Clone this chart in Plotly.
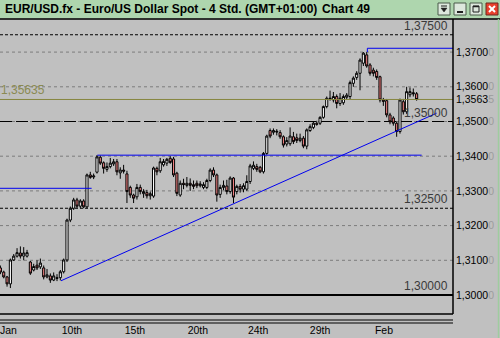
import plotly.graph_objects as go

# ---------------- data ----------------
opens = [1.3078, 1.3066, 1.3052, 1.3032, 1.3101, 1.3112, 1.3121, 1.3112, 1.3112, 1.3095,
         1.3072, 1.3086, 1.3081, 1.3078, 1.3052, 1.3055, 1.3043, 1.3050, 1.3050, 1.3067,
         1.3101, 1.3216, 1.3250, 1.3274, 1.3256, 1.3271, 1.3254, 1.3346, 1.3340, 1.3354,
         1.3397, 1.3381, 1.3362, 1.3370, 1.3378, 1.3384, 1.3352, 1.3360, 1.3349, 1.3310,
         1.3288, 1.3283, 1.3310, 1.3292, 1.3295, 1.3286, 1.3285, 1.3365, 1.3358, 1.3375,
         1.3380, 1.3394, 1.3392, 1.3351, 1.3288, 1.3322, 1.3316, 1.3322, 1.3318, 1.3322,
         1.3315, 1.3310, 1.3310, 1.3330, 1.3360, 1.3346, 1.3290, 1.3310, 1.3314, 1.3298,
         1.3337, 1.3298, 1.3313, 1.3305, 1.3305, 1.3327, 1.3365, 1.3370, 1.3368, 1.3355,
         1.3408, 1.3474, 1.3469, 1.3472, 1.3468, 1.3456, 1.3435, 1.3436, 1.3456, 1.3453,
         1.3445, 1.3452, 1.3429, 1.3474, 1.3483, 1.3495, 1.3495, 1.3512, 1.3543, 1.3567,
         1.3562, 1.3572, 1.3552, 1.3554, 1.3570, 1.3572, 1.3610, 1.3627, 1.3639, 1.3668,
         1.3692, 1.3663, 1.3648, 1.3644, 1.3629, 1.3562, 1.3560, 1.3519, 1.3510, 1.3495,
         1.3471, 1.3557, 1.3528, 1.3577, 1.3583, 1.3580]
highs = [1.3085, 1.3070, 1.3055, 1.3105, 1.3118, 1.3135, 1.3140, 1.3138, 1.3130, 1.3098,
         1.3090, 1.3100, 1.3105, 1.3085, 1.3075, 1.3062, 1.3065, 1.3060, 1.3072, 1.3105,
         1.3220, 1.3255, 1.3280, 1.3280, 1.3276, 1.3276, 1.3350, 1.3355, 1.3350, 1.3403,
         1.3402, 1.3385, 1.3382, 1.3395, 1.3392, 1.3392, 1.3368, 1.3375, 1.3358, 1.3315,
         1.3292, 1.3320, 1.3318, 1.3305, 1.3303, 1.3298, 1.3370, 1.3370, 1.3395, 1.3392,
         1.3395, 1.3400, 1.3398, 1.3355, 1.3330, 1.3335, 1.3340, 1.3336, 1.3330, 1.3330,
         1.3328, 1.3325, 1.3335, 1.3365, 1.3368, 1.3350, 1.3318, 1.3330, 1.3332, 1.3342,
         1.3340, 1.3318, 1.3320, 1.3322, 1.3345, 1.3378, 1.3385, 1.3378, 1.3372, 1.3412,
         1.3462, 1.3480, 1.3480, 1.3478, 1.3475, 1.3460, 1.3455, 1.3483, 1.3470, 1.3465,
         1.3465, 1.3458, 1.3480, 1.3492, 1.3500, 1.3502, 1.3515, 1.3546, 1.3572, 1.3589,
         1.3585, 1.3578, 1.3582, 1.3578, 1.3582, 1.3618, 1.3630, 1.3645, 1.3682, 1.3700,
         1.3700, 1.3668, 1.3655, 1.3650, 1.3632, 1.3568, 1.3565, 1.3525, 1.3515, 1.3500,
         1.3566, 1.3565, 1.3600, 1.3598, 1.3595, 1.3585]
lows = [1.3060, 1.3048, 1.3024, 1.3020, 1.3098, 1.3108, 1.3105, 1.3100, 1.3108, 1.3058,
        1.3068, 1.3072, 1.3075, 1.3045, 1.3048, 1.3035, 1.3040, 1.3040, 1.3042, 1.3062,
        1.3095, 1.3210, 1.3245, 1.3250, 1.3250, 1.3250, 1.3250, 1.3335, 1.3334, 1.3350,
        1.3375, 1.3350, 1.3355, 1.3365, 1.3372, 1.3345, 1.3335, 1.3350, 1.3265, 1.3280,
        1.3265, 1.3275, 1.3290, 1.3280, 1.3278, 1.3275, 1.3280, 1.3345, 1.3352, 1.3370,
        1.3372, 1.3378, 1.3340, 1.3285, 1.3283, 1.3305, 1.3310, 1.3300, 1.3305, 1.3308,
        1.3310, 1.3305, 1.3305, 1.3325, 1.3340, 1.3269, 1.3280, 1.3302, 1.3290, 1.3292,
        1.3265, 1.3290, 1.3295, 1.3296, 1.3300, 1.3320, 1.3360, 1.3355, 1.3351, 1.3350,
        1.3404, 1.3452, 1.3462, 1.3460, 1.3450, 1.3425, 1.3428, 1.3430, 1.3435, 1.3438,
        1.3440, 1.3423, 1.3420, 1.3470, 1.3478, 1.3488, 1.3490, 1.3508, 1.3538, 1.3560,
        1.3555, 1.3538, 1.3545, 1.3548, 1.3565, 1.3565, 1.3600, 1.3620, 1.3590, 1.3660,
        1.3655, 1.3632, 1.3630, 1.3620, 1.3555, 1.3545, 1.3512, 1.3492, 1.3488, 1.3456,
        1.3465, 1.3520, 1.3522, 1.3570, 1.3572, 1.3560]
closes = [1.3066, 1.3052, 1.3032, 1.3101, 1.3112, 1.3122, 1.3112, 1.3121, 1.3122, 1.3063,
          1.3082, 1.3078, 1.3092, 1.3052, 1.3058, 1.3043, 1.3055, 1.3048, 1.3067, 1.3101,
          1.3216, 1.3250, 1.3274, 1.3256, 1.3271, 1.3254, 1.3346, 1.3339, 1.3343, 1.3398,
          1.3380, 1.3365, 1.3370, 1.3380, 1.3384, 1.3355, 1.3360, 1.3357, 1.3298, 1.3288,
          1.3279, 1.3310, 1.3298, 1.3298, 1.3286, 1.3292, 1.3366, 1.3355, 1.3384, 1.3385,
          1.3391, 1.3382, 1.3346, 1.3293, 1.3322, 1.3318, 1.3322, 1.3316, 1.3313, 1.3315,
          1.3320, 1.3318, 1.3330, 1.3360, 1.3346, 1.3288, 1.3310, 1.3316, 1.3298, 1.3337,
          1.3282, 1.3313, 1.3305, 1.3315, 1.3327, 1.3372, 1.3374, 1.3362, 1.3355, 1.3408,
          1.3458, 1.3458, 1.3474, 1.3470, 1.3456, 1.3432, 1.3445, 1.3458, 1.3442, 1.3445,
          1.3452, 1.3429, 1.3476, 1.3485, 1.3495, 1.3492, 1.3512, 1.3543, 1.3567, 1.3565,
          1.3572, 1.3552, 1.3567, 1.3572, 1.3576, 1.3612, 1.3625, 1.3639, 1.3677, 1.3697,
          1.3660, 1.3639, 1.3639, 1.3627, 1.3562, 1.3558, 1.3519, 1.3499, 1.3495, 1.3471,
          1.3562, 1.3528, 1.3586, 1.3586, 1.3580, 1.35635]
bar_index = list(range(len(opens)))

x_tick_pos = [2.4, 21.5, 40.4, 59.3, 77.4, 96.0, 115.2]
x_tick_text = ["Jan", "10th", "15th", "20th", "24th", "29th", "Feb"]

y_tick_vals = [1.30, 1.31, 1.32, 1.33, 1.34, 1.35, 1.36, 1.37, 1.35635]
y_tick_main = ["1,3000", "1,3100", "1,3200", "1,3300", "1,3400", "1,3500", "1,3600", "1,3700", "1,3563"]
y_tick_last = ["0", "0", "0", "0", "0", "0", "0", "0", "5"]

grid_levels = [1.31, 1.32, 1.33, 1.34, 1.35, 1.36, 1.37]
dashed_levels = [1.375, 1.325]
longdash_levels = [1.35]
solid_levels = [1.30]
level_labels = [(1.375, "1,37500"), (1.35, "1,35000"), (1.325, "1,32500"), (1.30, "1,30000")]
last_price = 1.35635
last_price_text = "1,35635"

trend_x = [18.2, 131.0]
trend_y = [1.3041, 1.3524]
res_high_x = [110.2, 110.2, 135.92]
res_high_y = [1.3700, 1.3711, 1.3711]
res_mid_x = [29.1, 126.5]
res_mid_y = [1.3403, 1.3403]
res_low_x = [-0.12, 27.4]
res_low_y = [1.33075, 1.33075]

x_range = [-0.12, 135.92]
y_range = [1.294524, 1.379539]

# ---------------- layout helpers (pixel -> paper) ----------------
W, H = 500, 338
ML, MR, MT, MB = 0, 47, 19, 24
PW, PH = W - ML - MR, H - MT - MB


def px(x):
    return (x - ML) / PW


def py(y):
    return (H - MB - y) / PH


BG = "#c0c0c0"
BLUE = "#0000f0"

fig = go.Figure()
fig.add_trace(go.Candlestick(
    x=bar_index, open=opens, high=highs, low=lows, close=closes,
    increasing=dict(fillcolor="#ffffff", line=dict(color="#000000", width=1)),
    decreasing=dict(fillcolor="#f08080", line=dict(color="#000000", width=1)),
    whiskerwidth=0, hoverinfo="skip", showlegend=False,
))
for xs, ys in [(trend_x, trend_y), (res_high_x, res_high_y), (res_mid_x, res_mid_y), (res_low_x, res_low_y)]:
    fig.add_trace(go.Scatter(x=xs, y=ys, mode="lines", line=dict(color=BLUE, width=1),
                             hoverinfo="skip", showlegend=False))

shapes = []
for lv in grid_levels:
    shapes.append(dict(type="line", xref="paper", yref="y", x0=0, x1=1, y0=lv, y1=lv,
                       line=dict(color="#7c7c7c", width=1, dash="3px,3px"), layer="below"))
for lv in dashed_levels:
    shapes.append(dict(type="line", xref="paper", yref="y", x0=0, x1=1, y0=lv, y1=lv,
                       line=dict(color="#000000", width=1, dash="3px,2px"), layer="below"))
for lv in longdash_levels:
    shapes.append(dict(type="line", xref="paper", yref="y", x0=0, x1=1, y0=lv, y1=lv,
                       line=dict(color="#000000", width=1, dash="12px,4px"), layer="below"))
for lv in solid_levels:
    shapes.append(dict(type="line", xref="paper", yref="y", x0=0, x1=1, y0=lv, y1=lv,
                       line=dict(color="#000000", width=2), layer="below"))
shapes.append(dict(type="line", xref="paper", yref="y", x0=0, x1=1, y0=last_price, y1=last_price,
                   line=dict(color="#85853e", width=1), layer="above"))

# frame & window chrome
shapes += [
    dict(type="rect", xref="paper", yref="paper", x0=px(0), x1=px(500), y0=py(18.5), y1=py(0),
         fillcolor="#aed6ae", line=dict(width=0)),
    dict(type="line", xref="paper", yref="paper", x0=px(0), x1=px(500), y0=py(19), y1=py(19),
         line=dict(color="#000000", width=1.5)),
    dict(type="line", xref="paper", yref="paper", x0=1, x1=1, y0=0, y1=py(19),
         line=dict(color="#000000", width=1.5)),
    dict(type="line", xref="paper", yref="paper", x0=0, x1=1, y0=0, y1=0,
         line=dict(color="#000000", width=1.5)),
    dict(type="line", xref="paper", yref="paper", x0=0, x1=1, y0=py(320), y1=py(320),
         line=dict(color="#000000", width=1)),
    dict(type="line", xref="paper", yref="paper", x0=0, x1=1, y0=py(323), y1=py(323),
         line=dict(color="#000000", width=1)),
    dict(type="line", xref="paper", yref="paper", x0=px(498.5), x1=px(498.5), y0=py(338), y1=py(19),
         line=dict(color="#9fcc9f", width=1.5)),
]
# title-bar buttons
for bx in [438, 454, 470]:
    shapes.append(dict(type="rect", xref="paper", yref="paper", x0=px(bx), x1=px(bx + 12),
                       y0=py(15), y1=py(3), fillcolor="#dde8dd", line=dict(color="#4a5a4a", width=1)))
shapes.append(dict(type="rect", xref="paper", yref="paper", x0=px(486), x1=px(498),
                   y0=py(15), y1=py(3), fillcolor="#e8402c", line=dict(color="#6a2a20", width=1)))
shapes += [
    dict(type="line", xref="paper", yref="paper", x0=px(441), x1=px(447), y0=py(6), y1=py(6),
         line=dict(color="#202020", width=1)),
    dict(type="path", xref="paper", yref="paper",
         path=f"M {px(441)},{py(8)} L {px(447)},{py(8)} L {px(444)},{py(12)} Z",
         fillcolor="#202020", line=dict(color="#202020", width=0.5)),
    dict(type="line", xref="paper", yref="paper", x0=px(457), x1=px(463), y0=py(12), y1=py(12),
         line=dict(color="#202020", width=2)),
    dict(type="rect", xref="paper", yref="paper", x0=px(473), x1=px(479), y0=py(12), y1=py(6),
         line=dict(color="#202020", width=1)),
    dict(type="line", xref="paper", yref="paper", x0=px(473), x1=px(479), y0=py(6.5), y1=py(6.5),
         line=dict(color="#202020", width=1.5)),
    dict(type="line", xref="paper", yref="paper", x0=px(489), x1=px(495), y0=py(6), y1=py(12),
         line=dict(color="#ffffff", width=2)),
    dict(type="line", xref="paper", yref="paper", x0=px(489), x1=px(495), y0=py(12), y1=py(6),
         line=dict(color="#ffffff", width=2)),
]

annotations = [
    dict(xref="paper", yref="paper", x=px(3), y=py(9.5), xanchor="left", yanchor="middle",
         text="<b>EUR/USD.fx - Euro/US Dollar Spot - 4 Std. (GMT+01:00)</b>", showarrow=False,
         font=dict(family="Liberation Sans, Arial", size=12, color="#000000")),
    dict(xref="paper", yref="paper", x=px(320), y=py(9.5), xanchor="left", yanchor="middle",
         text="<b>Chart 49</b>", showarrow=False,
         font=dict(family="Liberation Sans, Arial", size=12, color="#000000")),
]
for lv, txt in level_labels:
    annotations.append(dict(xref="paper", yref="y", x=px(449), y=lv, xanchor="right", yanchor="bottom",
                            yshift=1, text=txt, showarrow=False, borderpad=0,
                            font=dict(family="Liberation Sans, Arial", size=12, color="#3a3a3a")))
annotations.append(dict(xref="paper", yref="y", x=px(0), y=last_price, xanchor="left", yanchor="bottom",
                        yshift=1, text=last_price_text, showarrow=False, borderpad=0,
                        font=dict(family="Liberation Sans, Arial", size=12, color="#8a8a52")))

y_tick_text = [f"{a}<span style='color:#9c9c9c'>{b}</span>" for a, b in zip(y_tick_main, y_tick_last)]

fig.update_layout(
    width=W, height=H, autosize=False,
    margin=dict(l=ML, r=MR, t=MT, b=MB, pad=0),
    paper_bgcolor=BG, plot_bgcolor=BG,
    boxgap=0.1,
    showlegend=False,
    shapes=shapes, annotations=annotations,
    xaxis=dict(range=x_range, showgrid=False, zeroline=False, showline=False, ticks="",
               tickmode="array", tickvals=x_tick_pos, ticktext=x_tick_text,
               tickfont=dict(family="Liberation Sans, Arial", size=10.5, color="#000000"),
               ticklabelstandoff=8, ticklabeloverflow="allow",
               rangeslider=dict(visible=False), fixedrange=True),
    yaxis=dict(range=y_range, side="right", showgrid=False, zeroline=False, showline=False, ticks="",
               tickmode="array", tickvals=y_tick_vals, ticktext=y_tick_text,
               tickfont=dict(family="Liberation Sans, Arial", size=10.5, color="#000000"),
               ticklabelstandoff=2, fixedrange=True),
)

fig.write_html("out.html")
